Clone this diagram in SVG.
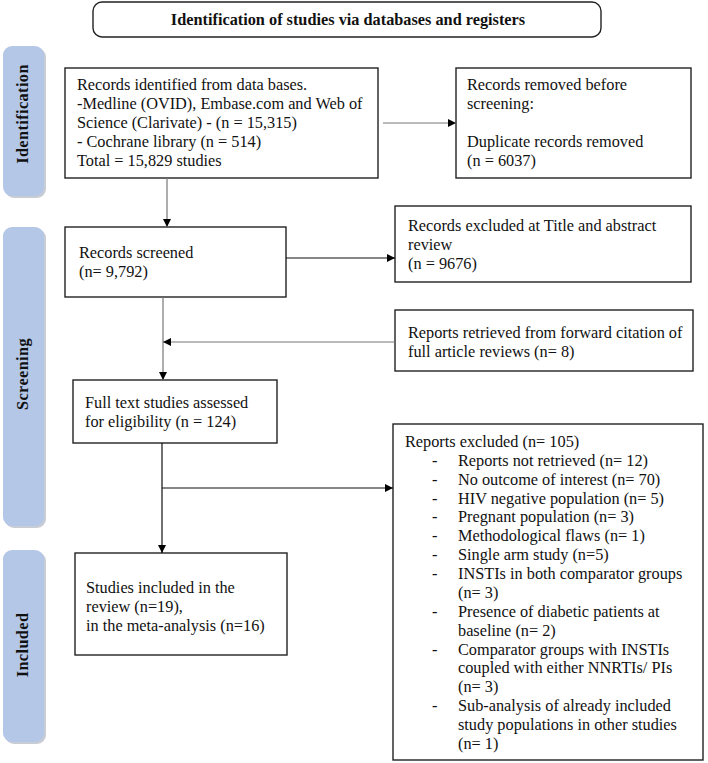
<svg xmlns="http://www.w3.org/2000/svg" width="708" height="763" viewBox="0 0 708 763">
<defs>
<marker id="ah" viewBox="0 0 10 10" refX="10" refY="5" markerWidth="8" markerHeight="8" markerUnits="userSpaceOnUse" orient="auto"><path d="M0,0 L10,5 L0,10 z" fill="#000"/></marker>
<style>
.box{fill:#fff;stroke:#222;stroke-width:1.4}
.t{font-family:"Liberation Serif","Times New Roman",serif;font-size:16.3px;fill:#111}
.b{font-weight:bold}
.side{fill:#b4c7e7}
.shadow{fill:#9aa3b0;opacity:0.55}
.c{fill:none;stroke:#111;stroke-width:1.2}
.g{stroke:#777}
</style>
</defs>
<rect width="708" height="763" fill="#fff"/>
<g id="title">
<rect class="box" x="93" y="2" width="508" height="35" rx="9"/>
<text class="t b" x="348" y="25" text-anchor="middle" font-size="16">Identification of studies via databases and registers</text>
</g>
<g id="side-identification">
<rect class="shadow" x="5" y="48" width="41" height="150" rx="9"/>
<rect class="side" x="3" y="46" width="41" height="150" rx="9"/>
<text class="t b" transform="translate(28,114) rotate(-90)" text-anchor="middle" letter-spacing="0.4">Identification</text>
</g>
<g id="side-screening">
<rect class="shadow" x="5" y="229" width="41" height="299" rx="9"/>
<rect class="side" x="3" y="227" width="41" height="299" rx="9"/>
<text class="t b" transform="translate(28,374) rotate(-90)" text-anchor="middle" letter-spacing="0.4">Screening</text>
</g>
<g id="side-included">
<rect class="shadow" x="5" y="552" width="41" height="192" rx="9"/>
<rect class="side" x="3" y="550" width="41" height="192" rx="9"/>
<text class="t b" transform="translate(28,645) rotate(-90)" text-anchor="middle" letter-spacing="0.4">Included</text>
</g>
<g id="records-identified">
<rect class="box" x="65" y="68" width="313" height="110"/>
<text class="t" x="77" y="90">Records identified from data bases.</text>
<text class="t" x="77" y="109">-Medline (OVID), Embase.com and Web of</text>
<text class="t" x="77" y="128">Science (Clarivate) - (n = 15,315)</text>
<text class="t" x="77" y="147">- Cochrane library (n = 514)</text>
<text class="t" x="77" y="166">Total = 15,829 studies</text>
</g>
<g id="records-removed">
<rect class="box" x="456" y="68" width="235" height="110"/>
<text class="t" x="467" y="90">Records removed before</text>
<text class="t" x="467" y="109">screening:</text>
<text class="t" x="467" y="147">Duplicate records removed</text>
<text class="t" x="467" y="166">(n = 6037)</text>
</g>
<g id="records-screened">
<rect class="box" x="65" y="227" width="221" height="70"/>
<text class="t" x="79" y="258">Records screened</text>
<text class="t" x="79" y="277">(n= 9,792)</text>
</g>
<g id="records-excluded">
<rect class="box" x="395" y="206" width="296" height="76"/>
<text class="t" x="408" y="231">Records excluded at Title and abstract</text>
<text class="t" x="408" y="250">review</text>
<text class="t" x="408" y="269">(n = 9676)</text>
</g>
<g id="reports-retrieved">
<rect class="box" x="395" y="310" width="298" height="61"/>
<text class="t" x="408" y="338">Reports retrieved from forward citation of</text>
<text class="t" x="408" y="357">full article reviews (n= 8)</text>
</g>
<g id="full-text">
<rect class="box" x="73" y="380" width="204" height="63"/>
<text class="t" x="85" y="408">Full text studies assessed</text>
<text class="t" x="85" y="427">for eligibility (n = 124)</text>
</g>
<g id="included">
<rect class="box" x="75" y="553" width="212" height="102"/>
<text class="t" x="86" y="593">Studies included in the</text>
<text class="t" x="86" y="612">review (n=19),</text>
<text class="t" x="86" y="631">in the meta-analysis (n=16)</text>
</g>
<g id="reports-excluded">
<rect class="box" x="393" y="424" width="310" height="336"/>
<text class="t" x="405" y="447">Reports excluded (n= 105)</text>
<g class="t">
<text x="432" y="466">-</text><text x="458" y="466">Reports not retrieved (n= 12)</text>
<text x="432" y="485">-</text><text x="458" y="485">No outcome of interest (n= 70)</text>
<text x="432" y="504">-</text><text x="458" y="504">HIV negative population (n= 5)</text>
<text x="432" y="522">-</text><text x="458" y="522">Pregnant population (n= 3)</text>
<text x="432" y="541">-</text><text x="458" y="541">Methodological flaws (n= 1)</text>
<text x="432" y="560">-</text><text x="458" y="560">Single arm study (n=5)</text>
<text x="432" y="579">-</text><text x="458" y="579">INSTIs in both comparator groups</text>
<text x="458" y="598">(n= 3)</text>
<text x="432" y="617">-</text><text x="458" y="617">Presence of diabetic patients at</text>
<text x="458" y="636">baseline (n= 2)</text>
<text x="432" y="655">-</text><text x="458" y="655">Comparator groups with INSTIs</text>
<text x="458" y="673">coupled with either NNRTIs/ PIs</text>
<text x="458" y="692">(n= 3)</text>
<text x="432" y="711">-</text><text x="458" y="711">Sub-analysis of already included</text>
<text x="458" y="730">study populations in other studies</text>
<text x="458" y="749">(n= 1)</text>
</g>
</g>
<g id="connectors">
<line class="c g" x1="383" y1="123" x2="456" y2="123" marker-end="url(#ah)"/>
<line class="c g" x1="167" y1="178" x2="167" y2="227" marker-end="url(#ah)"/>
<line class="c" x1="286" y1="258" x2="395" y2="258" marker-end="url(#ah)"/>
<line class="c g" x1="163" y1="297" x2="163" y2="380" marker-end="url(#ah)"/>
<line class="c g" x1="395" y1="342" x2="163" y2="342" marker-end="url(#ah)"/>
<line class="c" x1="162" y1="443" x2="162" y2="553" marker-end="url(#ah)"/>
<line class="c" x1="162" y1="488" x2="393" y2="488" marker-end="url(#ah)"/>
</g>
</svg>
